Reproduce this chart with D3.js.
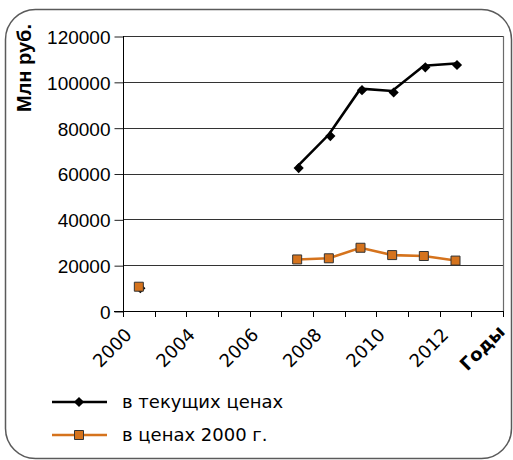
<!DOCTYPE html>
<html>
<head>
<meta charset="utf-8">
<script src="https://cdn.jsdelivr.net/npm/d3@7/dist/d3.min.js"></script>
<style>
  html, body { margin: 0; padding: 0; background: #fff; }
  svg { display: block; }
  text { font-family: "Liberation Sans", Arial, sans-serif; fill: #000; }
  .dv { font-family: "DejaVu Sans", Verdana, sans-serif; }
</style>
</head>
<body>
<script>
// Categories along the x axis (every other one is labelled)
const years = ["2000", "2003", "2004", "2005", "2006", "2007", "2008", "2009", "2010", "2011", "2012", "2013"];
const tickLabels = ["2000", "2004", "2006", "2008", "2010", "2012"];
const yTicks = [0, 20000, 40000, 60000, 80000, 100000, 120000];

// Series values, млн руб. (null = no data)
const currentPrices = [10600, null, null, null, null, 63000, 77000, 97000, 96000, 107000, 108000, null];
const constPrices   = [10600, null, null, null, null, 22500, 23000, 27600, 24400, 24000, 22000, null];

const seriesNames = ["в текущих ценах", "в ценах 2000 г."];
const yTitle = "Млн руб.";
const xTitle = "Годы";

const W = 513, H = 460;
const plot = { left: 123, right: 503, top: 36, bottom: 311 };
const orange = "#d5731d";

const svg = d3.select("body").append("svg").attr("width", W).attr("height", H);

// Rounded outer frame
svg.append("rect")
  .attr("x", 5.5).attr("y", 9.5).attr("width", 506).attr("height", 449)
  .attr("rx", 30).attr("ry", 30)
  .attr("fill", "none").attr("stroke", "#5a5a5a").attr("stroke-width", 1.5);

const x = d3.scaleBand().domain(years).range([plot.left, plot.right]).padding(0);
const y = d3.scaleLinear().domain([0, 120000]).range([plot.bottom, plot.top]);
const cx = d => x(d) + x.bandwidth() / 2;

// Y tick labels and outer tick marks
const yAxis = d3.axisLeft(y).tickValues(yTicks).tickSize(9).tickPadding(4).tickFormat(d3.format("d"));
const gy = svg.append("g").attr("transform", `translate(${plot.left + 0.5},0.5)`).call(yAxis);
gy.select(".domain").remove();
gy.selectAll(".tick line").attr("stroke", "#222");
gy.selectAll(".tick text").attr("font-size", 19).attr("dy", "0.36em").style("font-family", "Liberation Sans, Arial, sans-serif");

// Horizontal gridlines
svg.append("g").selectAll("line").data(yTicks.filter(v => v > 0)).join("line")
  .attr("x1", plot.left).attr("x2", plot.right)
  .attr("y1", d => Math.round(y(d)) + 0.5).attr("y2", d => Math.round(y(d)) + 0.5)
  .attr("stroke", "#333").attr("stroke-width", 1);

// Right edge of the plot area
svg.append("line")
  .attr("x1", plot.right + 0.5).attr("x2", plot.right + 0.5)
  .attr("y1", plot.top).attr("y2", plot.bottom)
  .attr("stroke", "#6b6b6b").attr("stroke-width", 1.2);

// Y axis line
svg.append("line")
  .attr("x1", plot.left + 0.5).attr("x2", plot.left + 0.5)
  .attr("y1", plot.top).attr("y2", plot.bottom + 1)
  .attr("stroke", "#000");

// X axis line and boundary ticks between categories
svg.append("line")
  .attr("x1", plot.left - 9).attr("x2", plot.right + 1)
  .attr("y1", plot.bottom + 0.5).attr("y2", plot.bottom + 0.5)
  .attr("stroke", "#000");
const edges = years.map(d => x(d)).concat([x.range()[1]]);
svg.append("g").selectAll("line").data(edges).join("line")
  .attr("x1", d => Math.round(d) + 0.5).attr("x2", d => Math.round(d) + 0.5)
  .attr("y1", plot.bottom).attr("y2", plot.bottom + 6)
  .attr("stroke", "#000");

// Rotated category labels
svg.append("g").selectAll("text").data(tickLabels).join("text")
  .attr("class", "dv")
  .attr("transform", d => `translate(${cx(d) - 6},${plot.bottom + 25}) rotate(-45)`)
  .attr("text-anchor", "end")
  .attr("font-size", 18)
  .text(d => d);

svg.append("text")
  .attr("class", "dv")
  .attr("transform", `translate(${plot.right + 3},${plot.bottom + 22}) rotate(-45)`)
  .attr("text-anchor", "end")
  .attr("font-size", 18).attr("font-weight", "bold")
  .text(xTitle);

// Y axis title
svg.append("text")
  .attr("transform", `translate(31,68) rotate(-90)`)
  .attr("text-anchor", "middle")
  .attr("font-size", 20).attr("font-weight", "bold")
  .text(yTitle);

// Series
const line = d3.line().defined(d => d.v != null).x(d => cx(d.year)).y(d => y(d.v));
const curData = years.map((yr, i) => ({ year: yr, v: currentPrices[i] }));
const conData = years.map((yr, i) => ({ year: yr, v: constPrices[i] }));

const diamond = d3.symbol().type(d3.symbolSquare).size(52);
const square = d3.symbol().type(d3.symbolSquare).size(81);

svg.append("path").datum(curData).attr("d", line)
  .attr("fill", "none").attr("stroke", "#000").attr("stroke-width", 2.6);
svg.append("g").selectAll("path").data(curData.filter(d => d.v != null)).join("path")
  .attr("d", diamond)
  .attr("transform", d => `translate(${cx(d.year) + 1.5},${y(d.v) + 1.5}) rotate(45)`)
  .attr("fill", "#000");

svg.append("path").datum(conData).attr("d", line)
  .attr("fill", "none").attr("stroke", orange).attr("stroke-width", 2.6);
svg.append("g").selectAll("path").data(conData.filter(d => d.v != null)).join("path")
  .attr("d", square)
  .attr("transform", d => `translate(${cx(d.year)},${y(d.v)})`)
  .attr("fill", orange).attr("stroke", "#333").attr("stroke-width", 1);

// Legend
const legend = svg.append("g");
const items = [
  { name: seriesNames[0], color: "#000", mark: diamond, rot: 45, fill: "#000", stroke: "none" },
  { name: seriesNames[1], color: orange, mark: square, rot: 0, fill: orange, stroke: "#333" }
];
items.forEach((it, i) => {
  const ly = 402 + i * 33;
  legend.append("line").attr("x1", 52).attr("x2", 107).attr("y1", ly).attr("y2", ly)
    .attr("stroke", it.color).attr("stroke-width", 2.6);
  legend.append("path").attr("d", it.mark)
    .attr("transform", `translate(79,${ly}) rotate(${it.rot})`)
    .attr("fill", it.fill).attr("stroke", it.stroke);
  legend.append("text").attr("class", "dv").attr("x", 122).attr("y", ly + 6).attr("font-size", 18).text(it.name);
});
</script>
</body>
</html>
